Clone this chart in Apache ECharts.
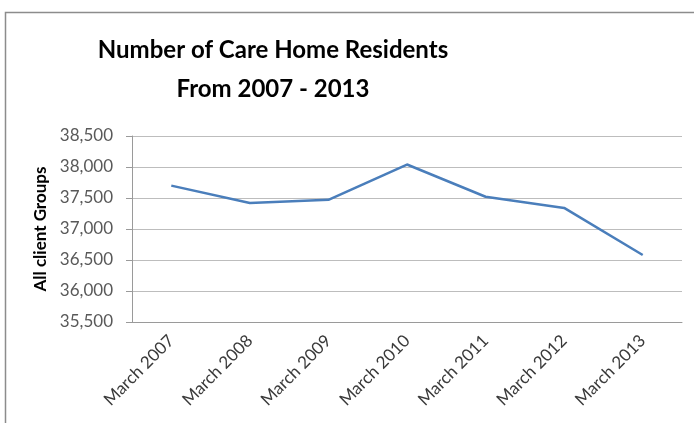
<!DOCTYPE html>
<html>
<head>
<meta charset="utf-8">
<script src="https://cdn.jsdelivr.net/npm/echarts@6/dist/echarts.min.js"></script>
<style>
  html, body { margin: 0; padding: 0; background: #ffffff; }
  #chart { width: 694px; height: 423px; }
</style>
</head>
<body>
<div id="chart"></div>
<script>
// Care home residents, all client groups, March of each year
const categories = ['March 2007', 'March 2008', 'March 2009', 'March 2010', 'March 2011', 'March 2012', 'March 2013'];
const residents = [37700, 37420, 37470, 38040, 37520, 37340, 36580];
const yMin = 35500;
const yMax = 38500;
const yStep = 500;

const chart = echarts.init(document.getElementById('chart'));

chart.setOption({
  backgroundColor: '#ffffff',
  animation: false,
  title: {
    text: 'Number of Care Home Residents\nFrom 2007 - 2013',
    left: 268,
    top: 26,
    textAlign: 'center',
    textStyle: {
      fontFamily: 'Lato',
      fontWeight: 'bold',
      fontSize: 24,
      lineHeight: 39,
      color: '#000000'
    }
  },
  graphic: [
    {
      // chart frame (left and top edges)
      type: 'polyline',
      shape: { points: [[5.5, 423], [5.5, 12.5], [694, 12.5]] },
      style: { stroke: '#8c8c8c', lineWidth: 1.5, fill: null }
    }
  ],
  grid: { left: 132, right: 12, top: 136, bottom: 101 },
  xAxis: {
    type: 'category',
    data: categories,
    boundaryGap: true,
    axisLine: { show: true, lineStyle: { color: '#9a9a9a', width: 1 } },
    axisTick: { show: false },
    axisLabel: {
      rotate: 45,
      margin: 16,
      fontFamily: 'Lato',
      fontSize: 17,
      color: '#3a3a3a'
    }
  },
  yAxis: {
    type: 'value',
    min: yMin,
    max: yMax,
    interval: yStep,
    name: 'All client Groups',
    nameLocation: 'middle',
    nameGap: 82,
    nameTextStyle: {
      fontFamily: 'Lato',
      fontWeight: 'bold',
      fontSize: 17,
      color: '#000000'
    },
    axisLine: { show: true, lineStyle: { color: '#9a9a9a', width: 1 } },
    axisTick: { show: true, inside: false, length: 6, lineStyle: { color: '#9a9a9a' } },
    splitLine: { show: true, lineStyle: { color: '#bdbdbd', width: 1 } },
    axisLabel: {
      margin: 19,
      fontFamily: 'Lato',
      fontSize: 17,
      color: '#595959',
      formatter: v => v.toLocaleString('en-US')
    }
  },
  series: [
    {
      type: 'line',
      data: residents,
      symbol: 'none',
      lineStyle: { color: '#4a7ebb', width: 2.5 }
    }
  ]
});
</script>
</body>
</html>
